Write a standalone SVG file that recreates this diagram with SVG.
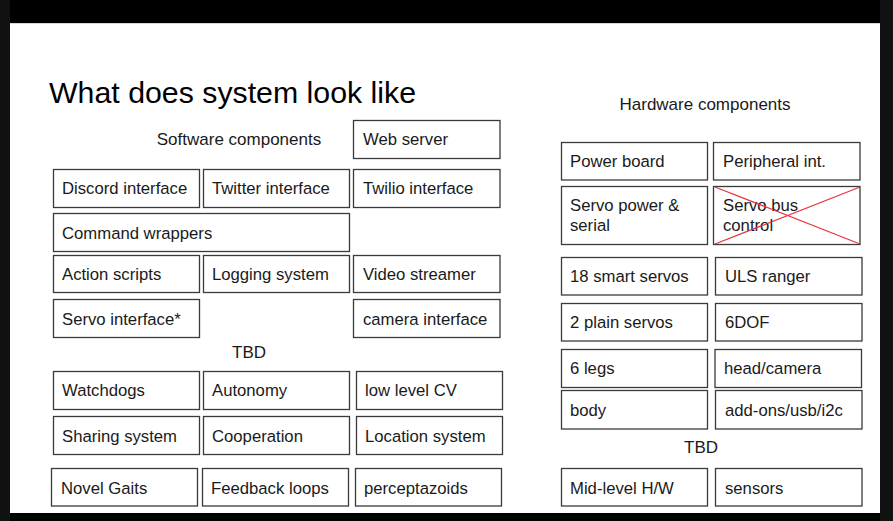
<svg xmlns="http://www.w3.org/2000/svg" width="893" height="521" viewBox="0 0 893 521">
  <style>
    .box rect { fill: #ffffff; stroke: #3a3a3a; stroke-width: 1.3; }
    .box text { font-family: "Liberation Sans", Arial, sans-serif; font-size: 16.7px; fill: #1a1a1a; }
    .label { font-family: "Liberation Sans", Arial, sans-serif; font-size: 17px; fill: #1a1a1a; }
    .title { font-family: "Liberation Sans", Arial, sans-serif; font-size: 30.3px; fill: #000000; }
    .cross { stroke: #e8323c; stroke-width: 1.2; }
  </style>

  <!-- frame around the slide -->
  <rect x="0" y="0" width="893" height="521" fill="#000000"/>
  <rect x="0" y="0" width="10" height="521" fill="#111111"/>
  <rect x="880" y="0" width="13" height="521" fill="#111111"/>
  <rect x="10" y="23" width="870" height="490" fill="#ffffff"/>
  <line x1="10" y1="23.5" x2="880" y2="23.5" stroke="#d8d8d8" stroke-width="1"/>

  <!-- headings -->
  <text class="title" x="49" y="103">What does system look like</text>
  <text class="label" x="239" y="145" text-anchor="middle">Software components</text>
  <text class="label" x="705" y="110" text-anchor="middle">Hardware components</text>
  <text class="label" x="249" y="358" text-anchor="middle">TBD</text>
  <text class="label" x="701" y="453" text-anchor="middle">TBD</text>

  <!-- software components -->
  <g id="web-server" class="box"><rect x="353.5" y="120.5" width="146.5" height="38"/><text x="363" y="145">Web server</text></g>
  <g id="discord-interface" class="box"><rect x="53.5" y="169.5" width="146" height="38"/><text x="62" y="194">Discord interface</text></g>
  <g id="twitter-interface" class="box"><rect x="203.5" y="169.5" width="146" height="38"/><text x="212" y="194">Twitter interface</text></g>
  <g id="twilio-interface" class="box"><rect x="353.5" y="169.5" width="146.5" height="38"/><text x="363" y="194">Twilio interface</text></g>
  <g id="command-wrappers" class="box"><rect x="53.5" y="213.5" width="296" height="38"/><text x="62" y="239">Command wrappers</text></g>
  <g id="action-scripts" class="box"><rect x="53.5" y="255.5" width="146" height="37"/><text x="62" y="280">Action scripts</text></g>
  <g id="logging-system" class="box"><rect x="203.5" y="255.5" width="146" height="37"/><text x="212" y="280">Logging system</text></g>
  <g id="video-streamer" class="box"><rect x="353.5" y="255.5" width="146.5" height="37"/><text x="363" y="280">Video streamer</text></g>
  <g id="servo-interface" class="box"><rect x="53.5" y="299.5" width="146" height="38"/><text x="62" y="325">Servo interface*</text></g>
  <g id="camera-interface" class="box"><rect x="353.5" y="299.5" width="146.5" height="38"/><text x="363" y="325">camera interface</text></g>

  <!-- software, to be decided -->
  <g id="watchdogs" class="box"><rect x="53.5" y="371.5" width="146" height="38"/><text x="62" y="396">Watchdogs</text></g>
  <g id="autonomy" class="box"><rect x="203.5" y="371.5" width="146" height="38"/><text x="212" y="396">Autonomy</text></g>
  <g id="low-level-cv" class="box"><rect x="356.5" y="371.5" width="146" height="38"/><text x="365" y="396">low level CV</text></g>
  <g id="sharing-system" class="box"><rect x="53.5" y="416.5" width="146" height="38"/><text x="62" y="442">Sharing system</text></g>
  <g id="cooperation" class="box"><rect x="203.5" y="416.5" width="146" height="38"/><text x="212" y="442">Cooperation</text></g>
  <g id="location-system" class="box"><rect x="356.5" y="416.5" width="146" height="38"/><text x="365" y="442">Location system</text></g>
  <g id="novel-gaits" class="box"><rect x="51.5" y="468.5" width="146" height="37.5"/><text x="61" y="494">Novel Gaits</text></g>
  <g id="feedback-loops" class="box"><rect x="202.5" y="468.5" width="146" height="37.5"/><text x="211" y="494">Feedback loops</text></g>
  <g id="perceptazoids" class="box"><rect x="355.5" y="468.5" width="146" height="37.5"/><text x="364" y="494">perceptazoids</text></g>

  <!-- hardware components -->
  <g id="power-board" class="box"><rect x="561.5" y="142.5" width="146" height="37.5"/><text x="570" y="167">Power board</text></g>
  <g id="peripheral-int" class="box"><rect x="713.5" y="142.5" width="146.5" height="37.5"/><text x="723" y="167">Peripheral int.</text></g>
  <g id="servo-power-serial" class="box"><rect x="561.5" y="186.5" width="146" height="58"/><text x="570" y="211">Servo power &amp;</text><text x="570" y="231">serial</text></g>
  <g id="servo-bus-control" class="box"><rect x="713.5" y="186.5" width="146.5" height="58"/><text x="723" y="211">Servo bus</text><text x="723" y="231">control</text>
    <line class="cross" x1="715" y1="187" x2="860" y2="244"/><line class="cross" x1="715" y1="244" x2="860" y2="187"/></g>
  <g id="smart-servos" class="box"><rect x="561.5" y="257.5" width="146" height="37.5"/><text x="570" y="282">18 smart servos</text></g>
  <g id="uls-ranger" class="box"><rect x="715.5" y="257.5" width="146.5" height="37.5"/><text x="725" y="282">ULS ranger</text></g>
  <g id="plain-servos" class="box"><rect x="561.5" y="303.5" width="146" height="37.5"/><text x="570" y="328">2 plain servos</text></g>
  <g id="six-dof" class="box"><rect x="715.5" y="303.5" width="146.5" height="37.5"/><text x="725" y="328">6DOF</text></g>
  <g id="legs" class="box"><rect x="561.5" y="349.5" width="146" height="38"/><text x="570" y="374">6 legs</text></g>
  <g id="head-camera" class="box"><rect x="715" y="349.5" width="146.5" height="38"/><text x="724" y="374">head/camera</text></g>
  <g id="body" class="box"><rect x="561.5" y="390.5" width="146" height="38.5"/><text x="570" y="416">body</text></g>
  <g id="add-ons" class="box"><rect x="715.5" y="390.5" width="146.5" height="38.5"/><text x="725" y="416">add-ons/usb/i2c</text></g>
  <g id="mid-level-hw" class="box"><rect x="561.5" y="468.5" width="146" height="37.5"/><text x="570" y="494">Mid-level H/W</text></g>
  <g id="sensors" class="box"><rect x="715.5" y="468.5" width="146.5" height="37.5"/><text x="725" y="494">sensors</text></g>

  <!-- no connectors are drawn between the components -->
  <g id="connectors"/>
</svg>
